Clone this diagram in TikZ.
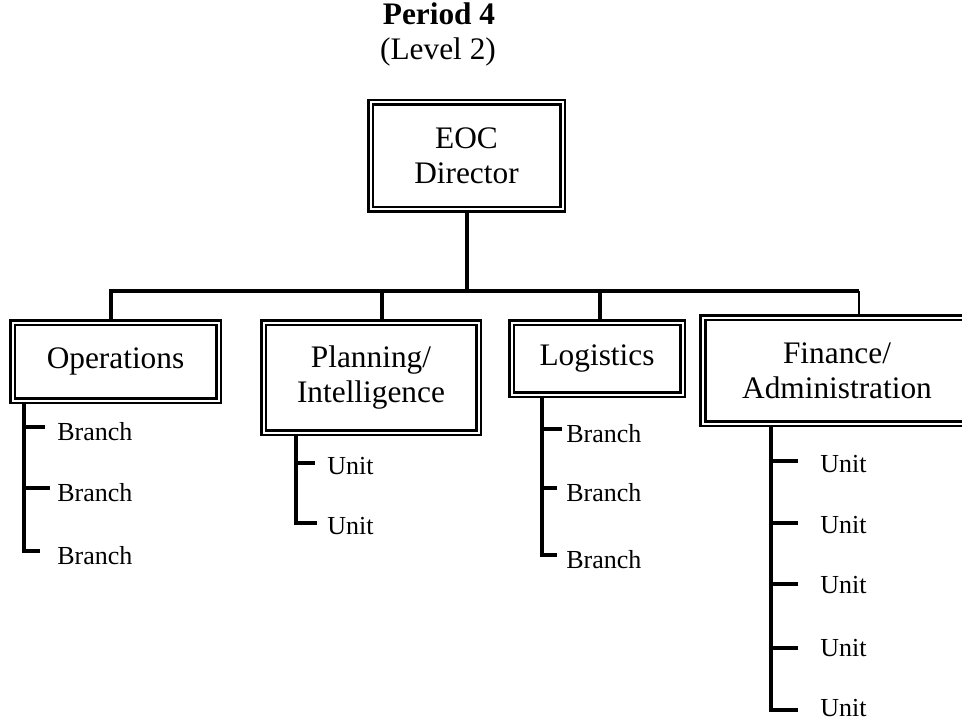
\documentclass[tikz,border=0pt]{standalone}
\usepackage{fontspec}
\setmainfont{Liberation Serif}
\usetikzlibrary{backgrounds}
\tikzset{
  orgbox/.style={draw, double, line width=1.9pt, double distance=1.5pt, fill=white,
    align=center, inner sep=0pt, font=\fontsize{23.5}{26.25}\selectfont},
  heading/.style={anchor=base, inner sep=0pt, font=\fontsize{23.5}{26.25}\selectfont},
  item/.style={anchor=base west, inner sep=0pt, font=\fontsize{19.5}{23}\selectfont},
  trunk/.style={line width=3pt},
  twig/.style={line width=3pt, line cap=rect},
}
\begin{document}
\begin{tikzpicture}[x=0.75pt, y=-0.75pt]
    \useasboundingbox (0,0) rectangle (962,723);
    \clip (0,0) rectangle (962,723);

    % title
    \node[heading, font=\fontsize{23.5}{26.25}\selectfont\bfseries] (period) at (439,25) {Period 4};
    \node[heading] (level) at (438,60) {(Level 2)};

    % boxes
    \node[orgbox, minimum width=144pt, minimum height=80.25pt] (eoc) at (466.5,156) {EOC\\Director};
    \node[orgbox, minimum width=154.5pt, minimum height=58.5pt] (ops) at (115.5,361.5) {Operations};
    \node[orgbox, minimum width=161.25pt, minimum height=82.5pt] (plan) at (371,377.5) {Planning/\\Intelligence};
    \node[orgbox, minimum width=128.25pt, minimum height=54pt] (log) at (597,358.5) {Logistics};
    \node[orgbox, minimum width=201pt, minimum height=79.5pt] (fin) at (837,370.5) {Finance/\\Administration};

    % branches and units
    \foreach \i/\y/\l in {1/427/19, 2/488/24, 3/551/14} {
        \node[item] (ops-\i) at (57,\y+13) {Branch};
        \coordinate (ops-t\i) at (24,\y);
        \coordinate (ops-e\i) at (24+\l,\y);
    }
    \foreach \i/\y/\l in {1/463/17, 2/523/19} {
        \node[item] (plan-\i) at (327,\y+11) {Unit};
        \coordinate (plan-t\i) at (296,\y);
        \coordinate (plan-e\i) at (296+\l,\y);
    }
    \foreach \i/\y/\l in {1/429/18, 2/488/13, 3/555/13} {
        \node[item] (log-\i) at (566,\y+13) {Branch};
        \coordinate (log-t\i) at (542,\y);
        \coordinate (log-e\i) at (542+\l,\y);
    }
    \foreach \i/\y/\b in {1/461/472, 2/523/533, 3/584/593, 4/648/656, 5/710/716} {
        \node[item] (fin-\i) at (820,\b) {Unit};
        \coordinate (fin-t\i) at (771,\y);
        \coordinate (fin-e\i) at (796,\y);
    }

    \begin{scope}[on background layer]
        \coordinate (tapO) at (111,291);
        \coordinate (tapP) at (382,291);
        \coordinate (tapL) at (600,291);
        \coordinate (tapF) at (859,291);
        \draw[trunk] (eoc.south) -- (eoc.south |- tapO);
        \draw[trunk] (ops.north -| tapO) -- (tapO) -- (tapF);
        \draw[trunk] (tapP) -- (tapP |- plan.north);
        \draw[trunk] (tapL) -- (tapL |- log.north);
        \draw[line width=1.2pt] (tapF) -- ([yshift=-4pt]tapF |- fin.north);

        \draw[twig] (ops.south -| ops-t1) -- (ops-t3);
        \foreach \i in {1,2,3} \draw[twig] (ops-t\i) -- (ops-e\i);
        \draw[twig] (plan.south -| plan-t1) -- (plan-t2);
        \foreach \i in {1,2} \draw[twig] (plan-t\i) -- (plan-e\i);
        \draw[twig] (log.south -| log-t1) -- (log-t3);
        \foreach \i in {1,2,3} \draw[twig] (log-t\i) -- (log-e\i);
        \draw[twig] (fin.south -| fin-t1) -- (fin-t5);
        \foreach \i in {1,...,5} \draw[twig] (fin-t\i) -- (fin-e\i);
    \end{scope}
\end{tikzpicture}
\end{document}
